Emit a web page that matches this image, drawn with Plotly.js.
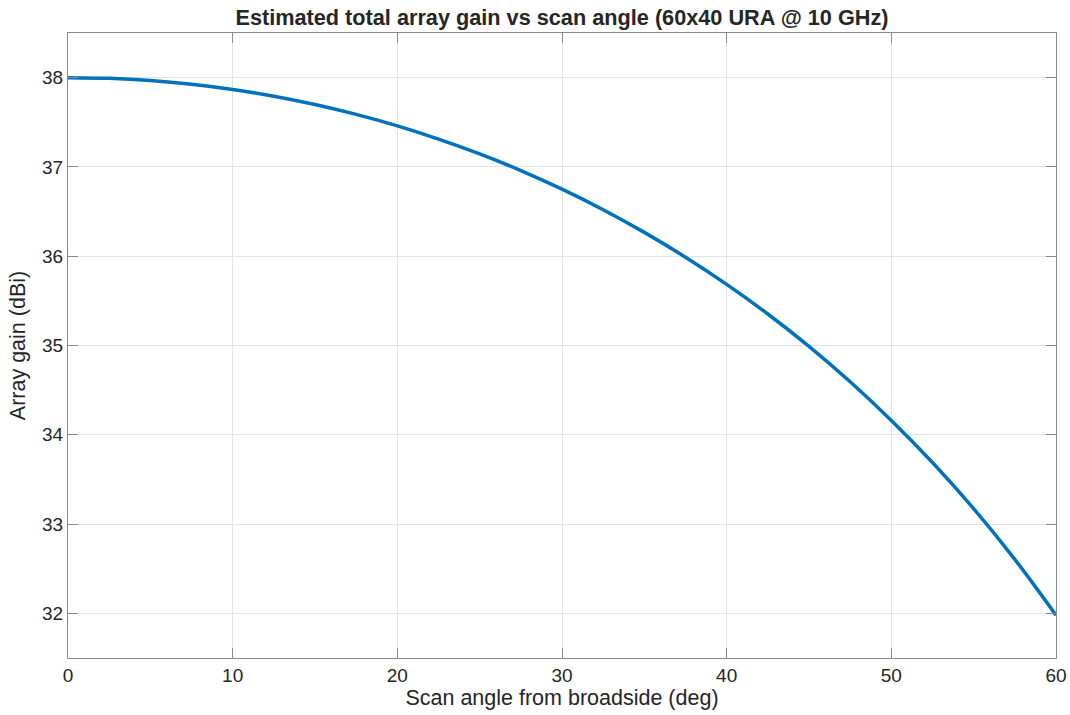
<!DOCTYPE html>
<html>
<head>
<meta charset="utf-8">
<script src="https://cdn.plot.ly/plotly-3.0.1.min.js"></script>
<style>html,body{margin:0;padding:0;background:#fff;}#chart{width:1070px;height:715px;}</style>
</head>
<body>
<div id="chart"></div>
<script>
// Scan angle (deg) and estimated array gain (dBi)
const scanAngle = [0, 2.5, 5, 7.5, 10, 12.5, 15, 17.5, 20, 22.5, 25, 27.5, 30, 32.5, 35, 37.5, 40, 42.5, 45, 47.5, 50, 52.5, 55, 57.5, 60];
const arrayGain = [38.000, 37.992, 37.967, 37.925, 37.867, 37.792, 37.699, 37.588, 37.460, 37.312, 37.146, 36.959, 36.751, 36.521, 36.267, 35.989, 35.685, 35.353, 34.990, 34.594, 34.161, 33.689, 33.172, 32.604, 31.979];
const xTicks = [0, 10, 20, 30, 40, 50, 60];
const yTicks = [32, 33, 34, 35, 36, 37, 38];

const font = 'Liberation Sans, Arial, Helvetica, sans-serif';
const axisCommon = {
  showline: true, linecolor: '#8a8a8a', linewidth: 1, mirror: 'ticks',
  ticks: 'inside', ticklen: 10, tickwidth: 1, tickcolor: '#8a8a8a',
  showgrid: true, gridcolor: '#e3e3e3', gridwidth: 1, zeroline: false,
  tickfont: {family: font, size: 19, color: '#262626'}
};

Plotly.newPlot('chart', [{
  x: scanAngle, y: arrayGain, type: 'scatter', mode: 'lines',
  line: {color: '#0072BD', width: 3.5, shape: 'spline', smoothing: 1}, hoverinfo: 'x+y'
}], {
  width: 1070, height: 715,
  margin: {l: 68, r: 14, t: 33, b: 57},
  paper_bgcolor: '#ffffff', plot_bgcolor: '#ffffff',
  showlegend: false,
  title: {text: '<b>Estimated total array gain vs scan angle (60x40 URA @ 10 GHz)</b>',
          font: {family: font, size: 21.7, color: '#262626'}, x: 0.5, xref: 'paper', xanchor: 'center', y: 0.976, yanchor: 'middle'},
  xaxis: Object.assign({}, axisCommon, {
    range: [0, 60], tickvals: xTicks, ticktext: xTicks.map(String),
    title: {text: 'Scan angle from broadside (deg)', font: {family: font, size: 21.5, color: '#262626'}, standoff: 3}
  }),
  yaxis: Object.assign({}, axisCommon, {
    range: [31.5, 38.5], tickvals: yTicks, ticktext: yTicks.map(String),
    title: {text: 'Array gain (dBi)', font: {family: font, size: 21.5, color: '#262626'}, standoff: 10}
  })
}, {displayModeBar: false, staticPlot: true});
</script>
</body>
</html>
